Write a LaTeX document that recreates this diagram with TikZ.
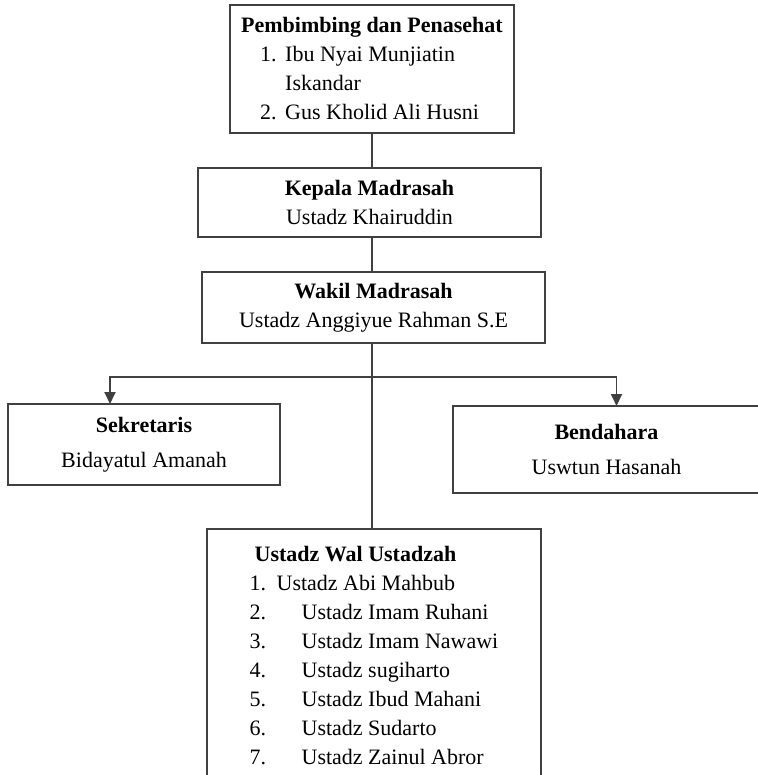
\documentclass[tikz,border=0pt]{standalone}
\usepackage{fontspec}
\setmainfont{Liberation Serif}
\usetikzlibrary{arrows.meta}

\begin{document}
\begin{tikzpicture}
[
x=0.5pt, y=-0.5pt,
orgbox/.style={rectangle, draw=black!75, line width=0.9pt, inner sep=0, outer sep=0,
  align=center, font=\fontsize{11}{14.5}\selectfont},
link/.style={draw=black!75, line width=0.9pt},
tip/.style={-{Triangle[width=5.5pt,length=6pt]}}
]
\clip (0,0) rectangle (758,775);
\node[orgbox, align=left, minimum width=142pt, minimum height=64pt] (pembina) at (372,69)
  {\textbf{Pembimbing dan Penasehat}\\
   \hspace*{9.5pt}\makebox[12.5pt][l]{1.}Ibu Nyai Munjiatin\\
   \hspace*{22pt}Iskandar\\
   \hspace*{9.5pt}\makebox[12.5pt][l]{2.}Gus Kholid Ali Husni};
\node[orgbox, minimum width=171.5pt, minimum height=34.5pt] (kepala) at (369.5,202.5)
  {\textbf{Kepala Madrasah}\\Ustadz Khairuddin};
\node[orgbox, minimum width=171.5pt, minimum height=35.5pt] (wakil) at (373.5,307.5)
  {\textbf{Wakil Madrasah}\\Ustadz Anggiyue Rahman S.E};
\node[orgbox, minimum width=136pt, minimum height=40.5pt] (sekretaris) at (144,444.5)
  {\textbf{Sekretaris}\\[3pt]Bidayatul Amanah};
\node[orgbox, minimum width=153.5pt, minimum height=43.5pt] (bendahara) at (606.5,449.5)
  {\textbf{Bendahara}\\[3pt]Uswtun Hasanah};
\node[orgbox, align=left, anchor=north, minimum width=167pt, minimum height=127pt] (ustadz) at (374,529)
  {\hspace*{2.5pt}\textbf{Ustadz Wal Ustadzah}\\
   \makebox[13.5pt][l]{1.}Ustadz Abi Mahbub\\
   \makebox[26pt][l]{2.}Ustadz Imam Ruhani\\
   \makebox[26pt][l]{3.}Ustadz Imam Nawawi\\
   \makebox[26pt][l]{4.}Ustadz sugiharto\\
   \makebox[26pt][l]{5.}Ustadz Ibud Mahani\\
   \makebox[26pt][l]{6.}Ustadz Sudarto\\
   \makebox[26pt][l]{7.}Ustadz Zainul Abror};
\coordinate (split) at (372,377);
\draw[link] (pembina.south) -- (pembina.south |- kepala.north);
\draw[link] (kepala.south -| split) -- (wakil.north -| split);
\draw[link] (wakil.south -| split) -- (ustadz.north -| split);
\draw[link, tip] (split) -| ([xshift=-17pt]sekretaris.north);
\draw[link, tip] (split) -| ([xshift=5pt]bendahara.north);
\end{tikzpicture}
\end{document}
